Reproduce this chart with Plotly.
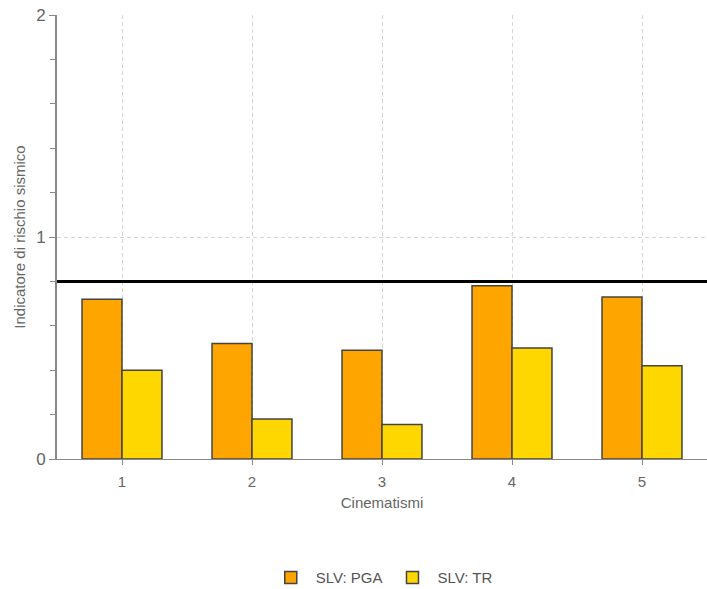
import plotly.graph_objects as go

categories = ["1", "2", "3", "4", "5"]
pga_values = [0.72, 0.52, 0.49, 0.78, 0.73]
tr_values = [0.40, 0.18, 0.155, 0.50, 0.42]
threshold = 0.8

font_family = "Liberation Sans, Arial, sans-serif"
txt_color = "#666666"

fig = go.Figure()
fig.add_trace(go.Bar(x=categories, y=pga_values, name="SLV: PGA",
                     marker=dict(color="#FFA500", line=dict(color="#444444", width=1.5))))
fig.add_trace(go.Bar(x=categories, y=tr_values, name="SLV: TR",
                     marker=dict(color="#FFD700", line=dict(color="#444444", width=1.5))))

fig.add_hline(y=threshold, line=dict(color="black", width=3))

fig.update_layout(
    width=707, height=589,
    margin=dict(l=57, r=0, t=15, b=130),
    plot_bgcolor="white", paper_bgcolor="white",
    barmode="group", bargap=0.385, bargroupgap=0,
    font=dict(family=font_family, size=14, color=txt_color),
    showlegend=True,
    legend=dict(orientation="h", x=0.54, xanchor="center", xref="container",
                y=0.019, yanchor="middle", yref="container",
                font=dict(size=15, color="#555555"), itemwidth=40),
    xaxis=dict(
        automargin=False,
        title=dict(text="Cinematismi", font=dict(size=15, color=txt_color), standoff=8),
        showline=True, linecolor="#888888", linewidth=1,
        ticks="outside", ticklen=5, tickcolor="#888888",
        ticklabelstandoff=4,
        showgrid=True, gridcolor="#d6d6d6", griddash="4px,3px", gridwidth=1,
        tickfont=dict(size=15, color=txt_color),
        range=[-0.5, 4.5],
    ),
    yaxis=dict(
        automargin=False,
        title=dict(text="Indicatore di rischio sismico", font=dict(size=15, color=txt_color), standoff=7),
        range=[0, 2], dtick=1, tick0=0,
        showline=True, linecolor="#888888", linewidth=2,
        ticks="outside", ticklen=6, tickcolor="#888888",
        showgrid=True, gridcolor="#d6d6d6", griddash="4px,3px", gridwidth=1,
        zeroline=False,
        tickfont=dict(size=17, color=txt_color),
        minor=dict(dtick=0.2, ticks="outside", ticklen=5, tickcolor="#888888", showgrid=False),
    ),
)

fig.write_html("out.html",
               config={"displayModeBar": False},
               post_script="document.body.style.margin='0';document.body.style.overflow='hidden';")
